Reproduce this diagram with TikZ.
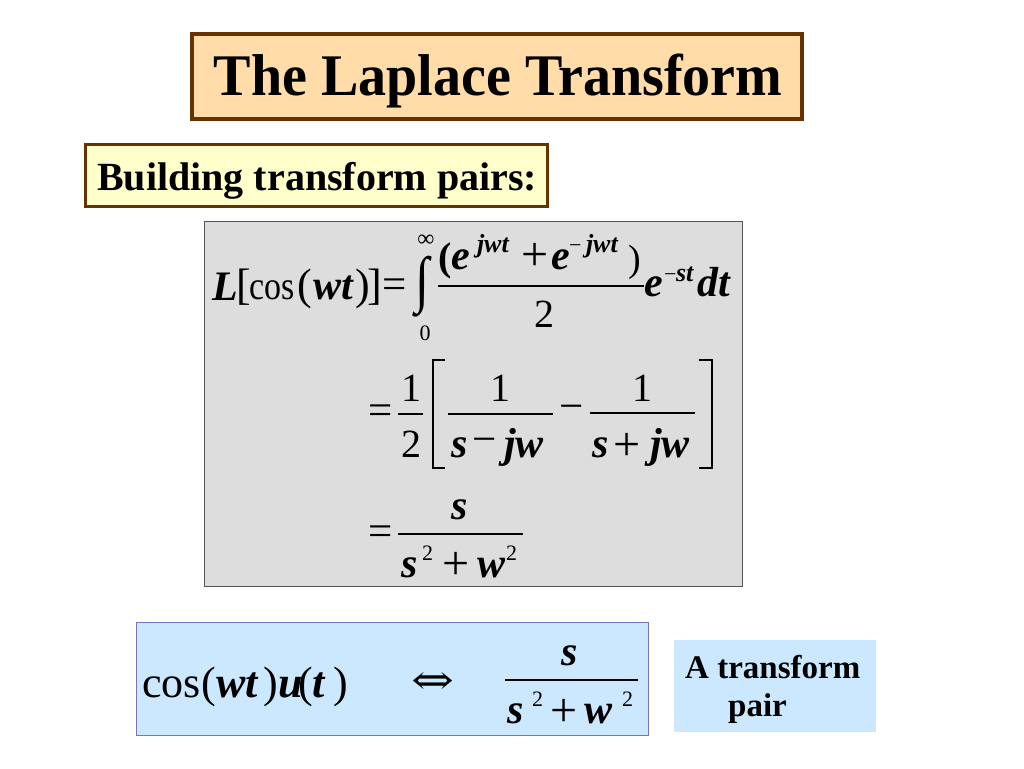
\documentclass[tikz,border=0pt]{standalone}
\usepackage{fontspec}
\usepackage{graphicx}
\setmainfont{Liberation Serif}
\newfontfamily\djv{DejaVu Serif}
\newfontfamily\cfam[FakeStretch=0.85]{Liberation Serif}
\newfontfamily\tfam[FakeStretch=0.95]{Liberation Serif}
\newcommand\fsz[1]{\fontsize{#1}{#1}\selectfont}
\newcommand\bi{\bfseries\itshape}
\definecolor{brownB}{HTML}{663300}
\definecolor{peach}{HTML}{FFDCA8}
\definecolor{cream}{HTML}{FFFFCC}
\definecolor{greyF}{HTML}{DDDDDD}
\definecolor{greyD}{HTML}{555555}
\definecolor{skyF}{HTML}{CCE8FF}
\definecolor{skyD}{HTML}{7474C0}
\begin{document}
\begin{tikzpicture}[x=1pt,y=-1pt,
  base/.style={inner sep=0pt, outer sep=0pt, anchor=base west},
  rm/.style={base, font=\fsz{40}},
  rmb/.style={base, font=\fsz{44}},
  cnd/.style={base, font=\cfam\fsz{40}},
  var/.style={base, font=\bi\fsz{42}},
  svar/.style={base, font=\bi\fsz{26}},
  ssup/.style={base, font=\fsz{22}},
  dig/.style={inner sep=0pt, outer sep=0pt, anchor=base, font=\fsz{40}},
  op/.style={inner sep=0pt, outer sep=0pt, anchor=center, font=\fsz{48}},
  opm/.style={inner sep=0pt, outer sep=0pt, anchor=center, font=\fsz{43}},
  fbar/.style={line width=1.5pt},
  brk/.style={line width=1.8pt},
  box/.style={inner sep=0pt, outer sep=0pt}
]
\useasboundingbox (0,0) rectangle (1024,768);
\fill[white] (0,0) rectangle (1024,768);

% title
\node[box, draw=brownB, line width=4pt, fill=peach, minimum width=610pt, minimum height=85pt] (titlebox) at (497,76.5) {};
\node[inner sep=0pt, anchor=base, font=\tfam\bfseries\fsz{59}] (titletext) at (498,95) {The Laplace Transform};

% subtitle
\node[box, draw=brownB, line width=3pt, fill=cream, minimum width=462pt, minimum height=62pt] (subbox) at (316.5,175.5) {};
\node[inner sep=0pt, anchor=base west, font=\bfseries\fsz{40}] (subtext) at (97,190) {Building transform pairs:};

% grey box
\node[box, draw=greyD, line width=1pt, fill=greyF, minimum width=538pt, minimum height=365pt] (greybox) at (473.5,404) {};

% line 1
\node[var] (l1L) at (212,300) {L};
\node[rmb] (l1b) at (236,299) {[};
\node[cnd] (l1cos) at (249,299) {cos};
\node[rmb] (l1p) at (297,299) {(};
\node[var] (l1wt) at (313,299) {wt};
\node[rmb] (l1pc) at (355,299) {)};
\node[rmb] (l1bc) at (367,299) {]};
\node[opm] (l1eq) at (395,289) {=};
\node[inner sep=0pt, anchor=center] (l1int) at (422,287) {\resizebox*{14pt}{61pt}{\fsz{40}∫}};
\node[inner sep=0pt, anchor=center, font=\fsz{24}] (l1inf) at (426,241) {∞};
\node[inner sep=0pt, anchor=base, font=\fsz{22}] (l1zero) at (425,340) {0};
\coordinate (l1barL) at (438,286);
\coordinate (l1barR) at (644,286);
\draw[fbar] (l1barL) -- (l1barR);
\node[base, font=\bfseries\fsz{40}] (n1p) at (438,270) {(};
\node[var] (n1e) at (451,269) {e};
\node[svar] (n1s) at (477,252) {jwt};
\node[op] (n1plus) at (535,257) {+};
\node[var] (n2e) at (551,269) {e};
\node[ssup] (n2m) at (569,252) {−};
\node[svar] (n2s) at (586,252) {jwt};
\node[base, font=\fsz{38}] (n2p) at (628,271) {)};
\node[dig] (d1) at (544,327) {2};
\node[var] (l1e) at (644,296) {e};
\node[ssup] (l1m) at (664,281) {−};
\node[svar] (l1st) at (676,281) {st};
\node[var] (l1dt) at (697,296) {dt};

% line 2
\node[opm] (l2eq) at (381,415) {=};
\node[dig] (l2h1) at (411,401) {1};
\draw[fbar] (398,414) coordinate (l2hbL) -- (423,414) coordinate (l2hbR);
\node[dig] (l2h2) at (411,457) {2};
\coordinate (lbA) at (445,360);
\coordinate (lbB) at (433,360);
\coordinate (lbC) at (433,468);
\coordinate (lbD) at (445,468);
\draw[brk] (lbA) -- (lbB) -- (lbC) -- (lbD);
\node[dig] (f1n) at (500,401) {1};
\draw[fbar] (448,414) coordinate (f1bL) -- (553,414) coordinate (f1bR);
\node[var] (f1s) at (451,457) {s};
\node[opm] (f1m) at (485,446) {−};
\node[var] (f1jw) at (504,457) {jw};
\node[opm] (l2m) at (572,413) {−};
\node[dig] (f2n) at (642,401) {1};
\draw[fbar] (590,413) coordinate (f2bL) -- (695,413) coordinate (f2bR);
\node[var] (f2s) at (592,457) {s};
\node[op] (f2p) at (627,447) {+};
\node[var] (f2jw) at (650,457) {jw};
\coordinate (rbA) at (699,360);
\coordinate (rbB) at (712,360);
\coordinate (rbC) at (712,468);
\coordinate (rbD) at (699,468);
\draw[brk] (rbA) -- (rbB) -- (rbC) -- (rbD);

% line 3
\node[opm] (l3eq) at (381,536) {=};
\node[inner sep=0pt, anchor=base, font=\bi\fsz{42}] (l3n) at (460,519) {s};
\draw[fbar] (398,534) coordinate (l3bL) -- (523,534) coordinate (l3bR);
\node[var] (l3s) at (401,577) {s};
\node[ssup] (l3s2) at (422,560) {2};
\node[op] (l3p) at (456,566) {+};
\node[var] (l3w) at (477,577) {w};
\node[ssup] (l3w2) at (506,560) {2};

% bottom pair box
\node[box, draw=skyD, line width=1.2pt, fill=skyF, minimum width=512pt, minimum height=113pt] (pairbox) at (392.5,679) {};
\node[base, font=\fsz{44}] (bcos) at (142,697) {cos};
\node[base, font=\fsz{44}] (bp1) at (201,697) {(};
\node[base, font=\bi\fsz{44}] (bwt) at (216,697) {wt};
\node[base, font=\fsz{44}] (bp2) at (263,697) {)};
\node[base, font=\bi\fsz{44}] (bu) at (278,697) {u};
\node[base, font=\fsz{44}] (bp3) at (298,697) {(};
\node[base, font=\bi\fsz{44}] (bt) at (312,697) {t};
\node[base, font=\fsz{44}] (bp4) at (333,697) {)};
\node[inner sep=0pt, anchor=center] (biarr) at (433,683) {\resizebox{43pt}{22pt}{\djv ⇔}};
\node[inner sep=0pt, anchor=base, font=\bi\fsz{42}] (bn) at (570,665) {s};
\draw[fbar] (505,680) coordinate (bbL) -- (638,680) coordinate (bbR);
\node[var] (bs) at (507,723) {s};
\node[ssup] (bs2) at (532,706) {2};
\node[op] (bp) at (564,713) {+};
\node[var] (bw) at (584,723) {w};
\node[ssup] (bw2) at (622,706) {2};

% label box
\node[box, fill=skyF, minimum width=202pt, minimum height=92pt] (labelbox) at (775,686) {};
\node[inner sep=0pt, anchor=base west, font=\bfseries\fsz{33}] (lab1) at (685,678) {A transform};
\node[inner sep=0pt, anchor=base west, font=\bfseries\fsz{33}] (lab2) at (728,716) {pair};
\end{tikzpicture}
\end{document}
